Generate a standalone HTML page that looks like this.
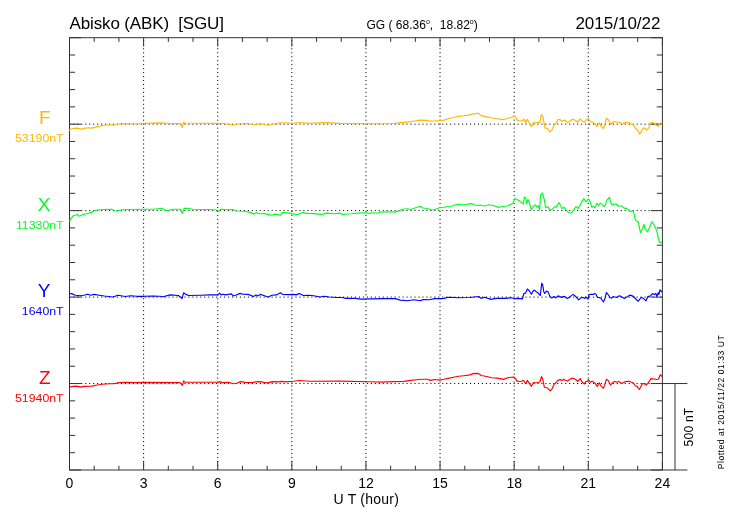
<!DOCTYPE html><html><head><meta charset="utf-8"><style>
html,body{margin:0;padding:0;background:#fff;width:730px;height:520px;overflow:hidden}
svg{position:absolute;left:0;top:0;font-family:"Liberation Sans",sans-serif;will-change:transform}
</style></head><body>
<svg width="730" height="520" viewBox="0 0 730 520">
<g stroke="#000" stroke-width="1" stroke-dasharray="1.1 2.868" stroke-dashoffset="-0.08"><line x1="143.61" y1="470" x2="143.61" y2="37.7"/><line x1="217.72" y1="470" x2="217.72" y2="37.7"/><line x1="291.84" y1="470" x2="291.84" y2="37.7"/><line x1="365.95" y1="470" x2="365.95" y2="37.7"/><line x1="440.06" y1="470" x2="440.06" y2="37.7"/><line x1="514.17" y1="470" x2="514.17" y2="37.7"/><line x1="588.29" y1="470" x2="588.29" y2="37.7"/></g>
<g stroke="#000" stroke-width="1" stroke-dasharray="1.1 2.867" stroke-dashoffset="0.17"><line x1="69.5" y1="124.16" x2="662.4" y2="124.16"/><line x1="69.5" y1="210.62" x2="662.4" y2="210.62"/><line x1="69.5" y1="297.08" x2="662.4" y2="297.08"/><line x1="69.5" y1="383.54" x2="662.4" y2="383.54"/></g>
<path d="M69.5 37.7h11.6M662.4 37.7h-11.6M69.5 54.99h5.6M662.4 54.99h-5.6M69.5 72.28h5.6M662.4 72.28h-5.6M69.5 89.58h5.6M662.4 89.58h-5.6M69.5 106.87h5.6M662.4 106.87h-5.6M69.5 124.16h11.6M662.4 124.16h-11.6M69.5 141.45h5.6M662.4 141.45h-5.6M69.5 158.74h5.6M662.4 158.74h-5.6M69.5 176.04h5.6M662.4 176.04h-5.6M69.5 193.33h5.6M662.4 193.33h-5.6M69.5 210.62h11.6M662.4 210.62h-11.6M69.5 227.91h5.6M662.4 227.91h-5.6M69.5 245.2h5.6M662.4 245.2h-5.6M69.5 262.5h5.6M662.4 262.5h-5.6M69.5 279.79h5.6M662.4 279.79h-5.6M69.5 297.08h11.6M662.4 297.08h-11.6M69.5 314.37h5.6M662.4 314.37h-5.6M69.5 331.66h5.6M662.4 331.66h-5.6M69.5 348.96h5.6M662.4 348.96h-5.6M69.5 366.25h5.6M662.4 366.25h-5.6M69.5 383.54h11.6M662.4 383.54h-11.6M69.5 400.83h5.6M662.4 400.83h-5.6M69.5 418.12h5.6M662.4 418.12h-5.6M69.5 435.42h5.6M662.4 435.42h-5.6M69.5 452.71h5.6M662.4 452.71h-5.6M69.5 470h11.6M662.4 470h-11.6M69.5 37.7v8.8M69.5 470v-8.8M94.2 37.7v4.2M94.2 470v-4.2M118.91 37.7v4.2M118.91 470v-4.2M143.61 37.7v8.8M143.61 470v-8.8M168.32 37.7v4.2M168.32 470v-4.2M193.02 37.7v4.2M193.02 470v-4.2M217.72 37.7v8.8M217.72 470v-8.8M242.43 37.7v4.2M242.43 470v-4.2M267.13 37.7v4.2M267.13 470v-4.2M291.84 37.7v8.8M291.84 470v-8.8M316.54 37.7v4.2M316.54 470v-4.2M341.25 37.7v4.2M341.25 470v-4.2M365.95 37.7v8.8M365.95 470v-8.8M390.65 37.7v4.2M390.65 470v-4.2M415.36 37.7v4.2M415.36 470v-4.2M440.06 37.7v8.8M440.06 470v-8.8M464.77 37.7v4.2M464.77 470v-4.2M489.47 37.7v4.2M489.47 470v-4.2M514.17 37.7v8.8M514.17 470v-8.8M538.88 37.7v4.2M538.88 470v-4.2M563.58 37.7v4.2M563.58 470v-4.2M588.29 37.7v8.8M588.29 470v-8.8M612.99 37.7v4.2M612.99 470v-4.2M637.7 37.7v4.2M637.7 470v-4.2M662.4 37.7v8.8M662.4 470v-8.8" stroke="#333" stroke-width="1" fill="none"/>
<rect x="69.5" y="37.7" width="592.9" height="432.3" fill="none" stroke="#333" stroke-width="1.0"/>
<path d="M662.4 383.54H687.4M662.4 470H687.4M675.0 383.54V470" stroke="#333" stroke-width="1" fill="none"/>
<path d="M69 130.7 L70 129.7 L72.2 128.7 L74.2 128.4 L77.4 128.1 L80.5 128.9 L81.5 129.2 L83.6 128.4 L88.8 127.8 L92 128.1 L94 127.4 L99.2 126.4 L104.4 125.2 L109.6 124.7 L113.8 125.2 L116.9 124.5 L120 123.7 L125.3 123.5 L130.5 123.7 L135.7 123.7 L140.9 123.5 L144 123.4 L160 122.9 L170 123.5 L180 123.6 L182.4 127.5 L183.6 122.3 L185 123 L200 123.3 L218 123.3 L225 123.8 L233 125 L240 123.8 L248 123.5 L254 124.8 L260 123.8 L268 125.2 L275 123.7 L280 122.8 L294 123.2 L300 122.5 L310 123.2 L324 122.6 L340 123.4 L369 123.8 L378.4 123.7 L394 123.5 L399.2 122.9 L409.6 121.9 L415.9 120.8 L420 120.1 L426.3 120.4 L431.5 121.3 L436.7 120.8 L444 120.1 L448.2 118.7 L453.4 117.5 L458.6 116.4 L463.8 115.8 L469 115.1 L472.2 114.1 L478.4 113.3 L481 115.6 L486.7 116.9 L491.9 118 L497.1 118.7 L502.9 119.6 L506.5 118.7 L511.7 117.2 L514.3 116.1 L515.9 117.7 L517 120.1 L519.1 120.8 L521.8 121 L524.2 119.2 L525.6 122.7 L527.3 119.2 L529 122 L531.4 126.8 L533.4 122.5 L535.5 123 L537.5 122.3 L539.9 122.7 L541.3 114.5 L542.7 116.2 L545.1 128.2 L547.1 128.2 L549.9 131.9 L551.9 130.2 L554 125.1 L556 123.4 L558.1 119.6 L560.2 119.6 L561.9 121.3 L563.6 120.3 L565 120.3 L567.7 122.5 L569.8 121.3 L572.5 119.2 L575.3 120.3 L577.7 122.2 L580.1 118.9 L582.1 121.1 L584.2 122.3 L585.5 120.6 L588.3 118.2 L590.3 121.6 L592.4 122 L595.1 123.7 L596.8 126.4 L599.2 123 L601 126.1 L603.4 128.5 L604.7 125.1 L606.4 118.2 L608.8 120.3 L610.9 124.4 L613 122 L615.1 121.5 L617.1 122.3 L619.2 122.2 L622.6 124 L625.3 122.3 L629.4 122.7 L631.5 124.2 L633.5 124.7 L635.6 128.5 L637.7 130.2 L639.7 134.3 L641.1 131.9 L643.1 128.2 L644.5 127.9 L646.6 130.2 L648.6 128.2 L650.7 123 L652 122.3 L654.1 123 L656.2 125.1 L658.2 126.4 L660.3 122.7 L661.3 124.4 L662 124" stroke="#FFB700" stroke-width="1.15" fill="none" stroke-linejoin="round"/>
<path d="M69.5 221.4 L71.1 218.3 L73.2 215.7 L75.3 215.2 L77.4 214.4 L78.9 216.2 L81.5 215.2 L83.6 214.4 L86.2 213.8 L88.8 213.1 L91.4 212.4 L94 211 L96.1 210.3 L99.2 209.7 L104.4 209.5 L111.7 209.2 L114.9 210.7 L118 211 L122.1 209.7 L130.5 209.5 L144 209.2 L153.4 209.2 L162.3 208.4 L165.4 210.3 L169 210.3 L172.2 209.2 L180.5 209.2 L182.4 213.4 L184.1 208.4 L187.8 208.4 L193 209.2 L205.5 209.5 L215.9 209.7 L219 211 L221.1 209.2 L226.3 209.7 L232.6 209.5 L236.7 211 L244 211.3 L249.2 212.1 L254.4 214.1 L256 212.6 L259.6 213.8 L264.8 213.6 L271.1 215.2 L275.3 214.1 L280.5 215.2 L282 212.6 L285.7 212.6 L290.9 213.4 L294 214.1 L298.2 214.4 L302.4 212.4 L306.5 213.4 L313.8 213.6 L322.2 214.4 L326.3 213.1 L334.6 213.8 L338.8 213.1 L343 214.4 L351.3 213.8 L357.5 213.1 L365.9 212.8 L369 213.4 L373.2 212.7 L376.8 213.2 L380.5 212.1 L388.8 211.8 L395.1 212.1 L399.2 210.6 L402.4 209.2 L407.6 208.7 L410.7 209.5 L413.8 208.5 L416.9 207.2 L420.1 206.4 L423.2 208 L427.3 208.5 L431.5 209.7 L434.6 209.5 L439.8 207.7 L444 207.2 L448.2 206.5 L451.3 206.3 L454.5 205 L458.6 204.2 L463.8 205 L470.6 203.6 L474.2 204.5 L477.4 205.7 L480.5 205 L484.6 206 L488.8 204.7 L494 205.7 L498.2 207.4 L502.3 206.5 L507.5 206 L510.7 204.2 L512.8 203.4 L514.8 198.4 L517 199.6 L519.7 201 L523.2 204.1 L524.5 196.9 L525.9 198.3 L526.6 203.8 L528 199.5 L529 201.7 L531.4 209.6 L533.4 206.5 L535.2 204.8 L536.9 207.2 L538.2 205.5 L539.6 209.9 L540.6 194.8 L542.5 192.8 L544.1 199 L545.8 207.9 L547.8 206.5 L549.9 209.9 L551.9 209.9 L554.7 206.5 L556 207.2 L559.1 202.7 L561.9 208.5 L563.9 207.2 L565 208.2 L567.1 211.3 L569.1 212.7 L571.2 213 L573.9 209.9 L576 206.5 L578.4 208.5 L581.4 202.4 L583.8 198.6 L585.9 201.7 L588.6 199 L590.3 201.7 L591.7 207.2 L593.1 206.2 L595.1 207.9 L596.8 203.1 L598.6 205.8 L600.3 203.1 L602 204.4 L603.7 206.5 L605.4 205.1 L606.8 200.3 L609.5 197.2 L610.9 203.1 L612.3 205.1 L613 204.4 L616.1 204 L618.8 206.2 L621 205.8 L624.5 208.4 L626.3 208.1 L629.8 211.1 L633.4 211.1 L635.1 219 L636.5 221.2 L638.2 221.7 L640.4 232.7 L642.6 228.3 L644 224.3 L644.9 228.3 L647.5 231.9 L651.9 221.7 L654.6 225.7 L656.8 231 L659.5 242.5 L661.2 242.5 L662 241.6" stroke="#00FF22" stroke-width="1.15" fill="none" stroke-linejoin="round"/>
<path d="M69.5 293.4 L72.2 293.9 L75.3 295.2 L80.5 295.7 L83.6 295.2 L87.8 294.2 L90.4 295.2 L94 294.4 L99.2 295.2 L104.4 296 L112.8 297 L118 295.2 L125.3 296.5 L130.5 295.7 L136.7 296.3 L144 296.3 L153.4 296 L163.8 296.5 L170.1 294.9 L178.4 295.5 L182 298.6 L183.6 292.8 L185.7 294.4 L188.8 295.5 L200.3 295.2 L210.7 294.9 L218 294.9 L219.6 293.2 L221.1 294.9 L223.2 294.2 L225.3 294.9 L231.5 293.9 L233.1 296 L235.7 295.2 L239.9 293.4 L243 294.2 L248.2 294.4 L253.4 296.5 L256 294.9 L257.6 296 L260.2 294.4 L263.8 295.5 L268 297 L272.1 295.2 L276.3 294.9 L280.5 292.8 L282.6 294.4 L288.8 294.6 L294 294.4 L296.1 294.9 L299.2 293.6 L303.4 295.5 L308.6 295.2 L313.8 295.7 L320.1 297 L324.2 296.3 L329.4 297 L336.7 297.5 L341.9 297.5 L346.1 298.4 L355.5 298.4 L360.7 299.1 L365.9 299.1 L369 298.8 L373.2 298.8 L383.6 298.6 L395.1 298.6 L400.3 300.1 L407.6 300.7 L413.8 299.8 L420.1 300.7 L423.2 299.6 L429.4 299.8 L434.6 298.6 L440.9 298.6 L444 298.4 L448.2 297.3 L458.6 297.7 L469 297.5 L474.2 297 L478.9 296.5 L481 298.4 L484.6 297.3 L490.9 299.4 L496.1 298.4 L505.5 298.4 L511.7 297.7 L514.8 298.8 L517 298.4 L519.7 298.6 L522.5 298.9 L523.8 293.5 L525.6 293.1 L527.3 289 L529.3 290.7 L531.4 294.2 L533.4 290.4 L534.8 290.4 L536.2 291.8 L537.5 292.4 L540.3 295.5 L541.7 283.2 L542.7 284.9 L543.7 291.4 L544.7 293.5 L546.5 291.1 L548.2 292.1 L549.9 296.2 L551.6 297.9 L554 296.5 L555.7 297.8 L558.1 295.9 L561.5 297.4 L564.3 296.4 L565 297 L567.4 298.4 L570.5 296.4 L573.2 294.4 L576 296.8 L578.7 299.9 L581.1 297.7 L583.2 297.5 L584.9 298.4 L586.2 297.1 L587.9 299 L589 295.1 L590.7 294.2 L593.1 294.4 L594.8 293.4 L596.2 294.7 L597.5 297.5 L599.2 297.5 L601 298.5 L603.4 301.9 L605.1 298.2 L606.4 292.5 L608.2 294.7 L610.2 297.8 L611.6 298.2 L613 296.5 L616.4 297.5 L619.5 295.8 L621.9 297 L624.3 298.4 L627.4 296.8 L630.1 295.1 L633.5 296.4 L636.3 299.5 L638.3 301.2 L641.1 297.5 L643.1 298.2 L645.9 300.9 L647.9 296.4 L650.3 296.1 L652.4 293.7 L654.1 294.4 L655.8 293.4 L656.8 296.4 L658.2 292.7 L658.9 294.7 L659.9 289.9 L661 291 L662 292" stroke="#0000FF" stroke-width="1.15" fill="none" stroke-linejoin="round"/>
<path d="M69.5 387.6 L71.1 386.6 L76.3 386.1 L81 387.1 L83.6 386.4 L91.9 386.1 L97.2 385 L102.4 384.3 L109.6 383.7 L113.8 383.7 L119 382.6 L125.3 382.4 L135.7 382.6 L144 382.4 L180 382.6 L182.4 385.3 L183.6 380.8 L185 382.2 L219 382.2 L219.6 381.6 L222.2 382.6 L228.4 382.4 L233.6 383.7 L236.7 383.2 L240.4 381.6 L245.1 382.4 L252.4 382.6 L256 381.9 L260.2 381.6 L263.8 382.4 L268 382.9 L272.1 381.6 L278.4 381.9 L281.5 381.4 L285.7 381.9 L294 381.2 L299 380.5 L310 381.3 L340 381.1 L369 381.7 L381.5 382.1 L394 381.6 L404.4 381.4 L410.7 380.4 L416.9 379.7 L422.1 379.2 L427.3 379.3 L430.5 380.4 L434.6 379.5 L439.8 380.1 L444 379.3 L448.2 378.4 L453.4 377.3 L458.6 376.3 L463.8 375.7 L470.1 374.9 L473.2 373.6 L478.4 373.4 L481 375.5 L486.7 376.5 L491.9 377.7 L497.1 378.1 L503.4 379.4 L508.6 377.5 L513.8 377 L515.9 379.1 L517 381.1 L519.7 381.5 L521.8 381.3 L523.5 380.3 L525.6 383.7 L527.3 380.4 L529.3 383.4 L531.4 386.3 L533.4 382.5 L535.2 382.7 L537.5 382.5 L539.9 382 L541.5 376.5 L542.7 378.9 L544.4 387.5 L547.1 387.7 L550.2 390.9 L551.9 389.2 L554 384.4 L556 382.7 L558.1 380.1 L560.2 379.6 L561.9 380.6 L563.9 379.2 L565 380.3 L567.4 381 L569.8 379.6 L572.2 378.1 L575.3 379.2 L577.7 381.3 L580.1 378.6 L582.1 382 L584.5 384 L585.5 381.6 L587.3 381.3 L588.4 379.5 L590.3 382.3 L592.4 381.3 L595.1 383.4 L597.2 386.4 L599.2 382.7 L601 386.1 L603.4 388.2 L604.7 385.1 L606.4 379.2 L608.2 380.6 L610.5 385.1 L612.6 382.7 L613 382.2 L614.7 381.5 L616.8 382.3 L618.8 381.5 L621.9 383.4 L625.3 381.6 L628.8 381.3 L631.5 382.3 L633.5 383 L635.3 385.8 L637 386.4 L639.4 389.5 L640.7 387.1 L642.5 383.6 L644.5 383.7 L646.2 385.1 L648.6 382.3 L651 378.6 L654.1 379 L656.8 379.5 L658.5 379 L660.3 374.7 L662 376.5" stroke="#FF0000" stroke-width="1.15" fill="none" stroke-linejoin="round"/>
<text x="69.5" y="29" font-size="17" fill="#000" xml:space="preserve" textLength="154.5" lengthAdjust="spacing">Abisko (ABK)  [SGU]</text>
<text x="366.5" y="28.8" font-size="12" fill="#000" xml:space="preserve">GG ( 68.36<tspan font-size="7" dy="-4.5">o</tspan><tspan dy="4.5">,  18.82</tspan><tspan font-size="7" dy="-4.5">o</tspan><tspan dy="4.5">)</tspan></text>
<text x="660.5" y="28.7" font-size="17" fill="#000" text-anchor="end">2015/10/22</text>
<text x="50.5" y="124.16" font-size="19" fill="#FFB700" text-anchor="end">F</text>
<text x="63.6" y="142.36" font-size="11.4" fill="#FFB700" text-anchor="end" textLength="48.56" lengthAdjust="spacingAndGlyphs">53190nT</text>
<text x="50.5" y="210.62" font-size="19" fill="#00FF22" text-anchor="end">X</text>
<text x="63.6" y="228.82" font-size="11.4" fill="#00FF22" text-anchor="end" textLength="47.65" lengthAdjust="spacingAndGlyphs">11330nT</text>
<text x="50.5" y="297.08" font-size="19" fill="#0000FF" text-anchor="end">Y</text>
<text x="63.6" y="315.28" font-size="11.4" fill="#0000FF" text-anchor="end" textLength="41.72" lengthAdjust="spacingAndGlyphs">1640nT</text>
<text x="50.5" y="383.54" font-size="19" fill="#FF0000" text-anchor="end">Z</text>
<text x="63.6" y="401.74" font-size="11.4" fill="#FF0000" text-anchor="end" textLength="48.56" lengthAdjust="spacingAndGlyphs">51940nT</text>
<text x="69.5" y="488" font-size="14" text-anchor="middle">0</text>
<text x="143.61" y="488" font-size="14" text-anchor="middle">3</text>
<text x="217.72" y="488" font-size="14" text-anchor="middle">6</text>
<text x="291.84" y="488" font-size="14" text-anchor="middle">9</text>
<text x="365.95" y="488" font-size="14" text-anchor="middle">12</text>
<text x="440.06" y="488" font-size="14" text-anchor="middle">15</text>
<text x="514.17" y="488" font-size="14" text-anchor="middle">18</text>
<text x="588.29" y="488" font-size="14" text-anchor="middle">21</text>
<text x="662.4" y="488" font-size="14" text-anchor="middle">24</text>
<text x="366.2" y="504.3" font-size="14" text-anchor="middle" xml:space="preserve" textLength="65.5" lengthAdjust="spacing">U T (hour)</text>
<text transform="translate(693 427.1) rotate(-90)" font-size="12" text-anchor="middle" textLength="38.6" lengthAdjust="spacing">500 nT</text>
<text transform="translate(723.8 402.3) rotate(-90)" font-size="8.6" text-anchor="middle" textLength="134" lengthAdjust="spacing">Plotted at 2015/11/22 01:33 UT</text>
</svg></body></html>
